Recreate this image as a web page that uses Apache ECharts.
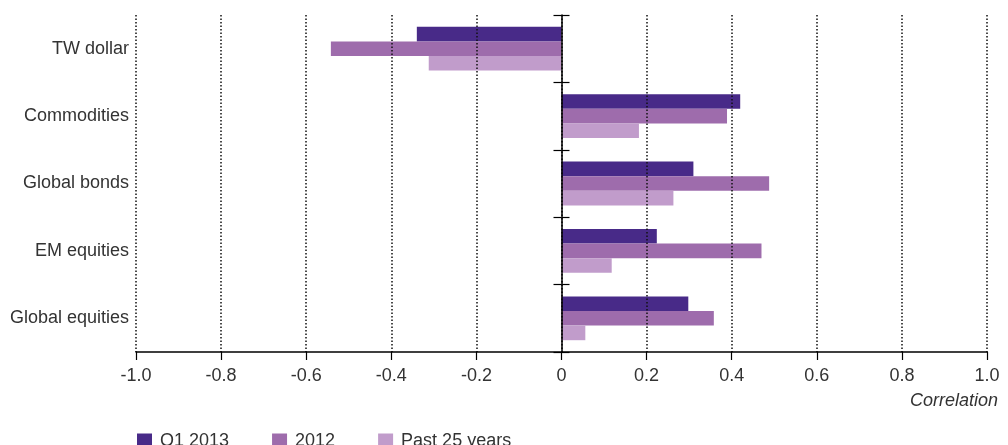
<!DOCTYPE html>
<html>
<head>
<meta charset="utf-8">
<script src="https://cdn.jsdelivr.net/npm/echarts@6/dist/echarts.min.js"></script>
<style>html,body{margin:0;padding:0;background:#fff;}#c{width:1008px;height:445px;}</style>
</head>
<body>
<div id="c"></div>
<script>
const categories = ['TW dollar', 'Commodities', 'Global bonds', 'EM equities', 'Global equities'];
const seriesNames = ['Q1 2013', '2012', 'Past 25 years'];
const q1_2013 = [-0.34, 0.42, 0.31, 0.224, 0.298];
const y2012 = [-0.542, 0.389, 0.488, 0.47, 0.358];
const past25 = [-0.312, 0.182, 0.263, 0.118, 0.056];
const colors = ['#482a88', '#9e6cac', '#c19ccb'];
const xMin = -1.0, xMax = 1.0, xStep = 0.2;
const axisName = 'Correlation';

const FONT = 'Liberation Sans';
const TXT = '#333';
const GRID = {left: 136, right: 21, top: 15, bottom: 93};
const chartW = 1008;
const plotW = chartW - GRID.left - GRID.right;
// offsets that move the two tick-only category axes onto x = 0
const offRight = -(plotW * (xMax - 0) / (xMax - xMin));
const offLeft = -(plotW * (0 - xMin) / (xMax - xMin));
const chart = echarts.init(document.getElementById('c'), null, {renderer: 'canvas'});
const catAxisBase = {
  type: 'category', data: categories, inverse: true, gridIndex: 0
};
const values = [q1_2013, y2012, past25];
chart.setOption({
  animation: false,
  grid: Object.assign({containLabel: false}, GRID),
  title: {text: axisName, right: 10, top: 392, padding: 0,
    textStyle: {fontFamily: FONT, fontSize: 18, fontStyle: 'italic', fontWeight: 'normal', color: TXT}},
  legend: {
    left: 132, top: 427, itemWidth: 15, itemHeight: 15, itemGap: 43, icon: 'rect',
    textStyle: {fontFamily: FONT, fontSize: 18, color: TXT, padding: [0,0,0,3]},
    data: seriesNames
  },
  xAxis: {
    type: 'value', min: xMin, max: xMax, interval: xStep, z: 5,
    axisLine: {show: true, onZero: false, lineStyle: {color: '#000', width: 1.5}},
    axisTick: {show: true, length: 8, lineStyle: {color: '#000', width: 1.2}},
    axisLabel: {margin: 15, fontFamily: FONT, fontSize: 18, color: TXT,
      formatter: v => (Math.abs(v) < 1e-9 ? '0' : v.toFixed(1))},
    splitLine: {show: true, lineStyle: {color: '#111', width: 1.5, type: [1.5, 2]}}
  },
  yAxis: [
    Object.assign({}, catAxisBase, {
      position: 'left',
      axisLine: {show: false, onZero: false},
      axisTick: {show: false},
      axisLabel: {fontFamily: FONT, fontSize: 18, color: TXT, margin: 7},
      splitLine: {show: false}
    }),
    Object.assign({}, catAxisBase, {
      z: 6, position: 'left', offset: offLeft,
      axisLine: {show: true, onZero: false, lineStyle: {color: '#000', width: 1.5}},
      axisTick: {show: true, length: 8, inside: false, lineStyle: {color: '#000', width: 1.2}},
      axisLabel: {show: false},
      splitLine: {show: false}
    }),
    Object.assign({}, catAxisBase, {
      z: 6, position: 'right', offset: offRight,
      axisLine: {show: false, onZero: false},
      axisTick: {show: true, length: 8, inside: false, lineStyle: {color: '#000', width: 1.2}},
      axisLabel: {show: false},
      splitLine: {show: false}
    })
  ],
  series: seriesNames.map((n, i) => ({
    name: n, type: 'bar', yAxisIndex: 0, data: values[i],
    itemStyle: {color: colors[i]},
    barGap: '0%', barCategoryGap: '35%'
  }))
});
</script>
</body>
</html>
